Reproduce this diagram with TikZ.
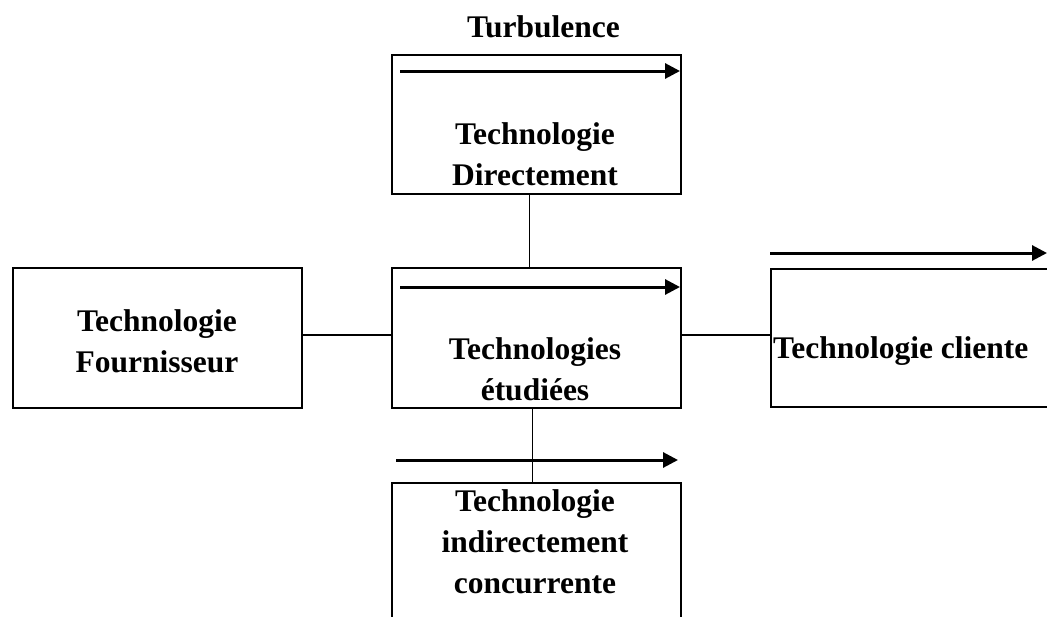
\documentclass[tikz,border=0pt]{standalone}
\usepackage{fontspec}
\setmainfont{Liberation Serif}
\usetikzlibrary{arrows.meta}
\begin{document}
\begin{tikzpicture}[x=1pt,y=-1pt,
  boxst/.style={draw,line width=2.3pt,inner sep=0pt,anchor=north west},
  txt/.style={inner sep=0pt,align=center,font=\bfseries\fontsize{31.5}{41}\selectfont},
  flow/.style={line width=3pt,-{Triangle[length=15pt,width=15pt]}},
  link/.style={line width=1.5pt}]
\clip (0,0) rectangle (1047,616);
\fill[white] (0,0) rectangle (1047,616);
% boxes
\node[boxst,minimum width=289pt,minimum height=139pt] (top) at (391,54) {};
\node[boxst,minimum width=289pt,minimum height=140pt] (mid) at (391,267) {};
\node[boxst,minimum width=289pt,minimum height=140pt] (left) at (12,267) {};
\node[boxst,minimum width=320pt,minimum height=138pt] (right) at (770,268) {};
\node[boxst,minimum width=289pt,minimum height=160pt] (bot) at (391,482) {};
% texts
\node[txt,anchor=base] (turb) at (543.5,37) {Turbulence};
\node[txt] (ttop) at (535,154.5) {Technologie\\Directement};
\node[txt] (tmid) at (535,369) {Technologies\\étudiées};
\node[txt] (tleft) at (157,341.5) {Technologie\\Fournisseur};
\node[txt,anchor=base west] (tright) at (773,358) {Technologie cliente};
\node[txt] (tbot) at (535,542) {Technologie\\indirectement\\concurrente};
% flow arrows
\coordinate (a1s) at (400,71); \coordinate (a1e) at (680,71);
\coordinate (a2s) at (400,287); \coordinate (a2e) at (680,287);
\coordinate (a3s) at (396,460); \coordinate (a3e) at (678,460);
\coordinate (a4s) at (770,253); \coordinate (a4e) at (1047,253);
\draw[flow] (a1s) -- (a1e);
\draw[flow] (a2s) -- (a2e);
\draw[flow] (a3s) -- (a3e);
\draw[flow] (a4s) -- (a4e);
% connectors
\draw[link] ([xshift=-7pt]top.south) -- ([xshift=-7pt]mid.north);
\draw[link] ([xshift=-4pt]mid.south) -- ([xshift=-4pt]bot.north);
\draw[link] (left.east |- 0,335) -- (mid.west |- 0,335);
\draw[link] (mid.east |- 0,335) -- (right.west |- 0,335);
\end{tikzpicture}
\end{document}
